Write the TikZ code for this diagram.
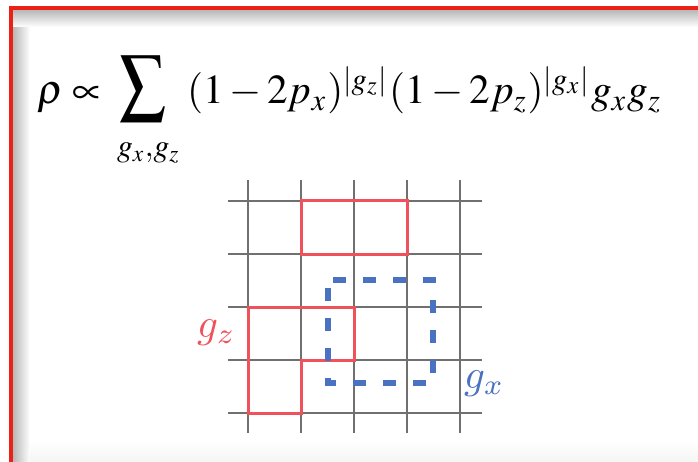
\documentclass[tikz,border=0pt]{standalone}
\usepackage{graphicx}
\usepackage{mathptmx}
\definecolor{framered}{RGB}{236,32,22}
\definecolor{gred}{RGB}{240,82,92}
\definecolor{gblue}{RGB}{74,114,192}
\definecolor{gridc}{RGB}{112,112,112}
\newcommand{\lmmi}{\usefont{OML}{lmm}{m}{it}}
\newcommand{\sublmmi}{\fontsize{7}{7}\usefont{OML}{lmm}{m}{it}}
\tikzset{
  gridline/.style={draw=gridc, line width=1.3pt},
  redloop/.style={draw=gred, line width=3pt, line join=miter},
  blueloop/.style={draw=gblue, line width=5.5pt, dash pattern=on 13pt off 17pt, dash phase=25pt},
  formula/.style={inner sep=0pt, outer sep=0pt},
}
\begin{document}
\begin{tikzpicture}[x=1pt,y=-1pt]
\useasboundingbox (0,0) rectangle (698,462);
\clip (0,0) rectangle (698,462);
\fill[white] (0,0) rectangle (698,462);
% shadow inside the frame
\shade[left color=black!28, right color=white] (13,10) rectangle (30,462);
\shade[top color=black!28, bottom color=white] (13,10) rectangle (698,27);
\shade[top color=white, bottom color=black!4] (30,442) rectangle (698,462);
% frame
\draw[framered, line width=4pt] (11,470) -- (11,8) -- (710,8);

% formula
\node[formula, anchor=base west] (rho) at (37,104) {\resizebox{65pt}{!}{$\rho\propto$}};
\node[formula] (sum) at (143.5,89) {\resizebox*{47pt}{66pt}{$\displaystyle\sum$}};
\node[formula, anchor=base west] (sumsub) at (117,157) {\resizebox{63pt}{!}{$g_x{,}g_z$}};
\node[formula, anchor=base west] (rest) at (187,104) {\resizebox{475pt}{!}{$(1-2p_x)^{|g_z|}(1-2p_z)^{|g_x|}g_xg_z$}};

% grid
\foreach \i in {0,...,4} {
  \draw[gridline] (248+53*\i,180) -- (248+53*\i,433);
  \draw[gridline] (228,201+53*\i) -- (482,201+53*\i);
}
% red loops
\draw[redloop] (301,201) rectangle (407,254);
\draw[redloop] (248,307) -- (354,307) -- (354,360) -- (301,360) -- (301,413) -- (248,413) -- cycle;
% blue dashed loop
\draw[blueloop] (328,280) -- (433,280) -- (433,383) -- (328,383) -- cycle;

% labels
\node[inner sep=0pt, text=gred, anchor=base west] (gz) at (197,337)
  {\scalebox{4.1}{\lmmi g\raisebox{-1.5pt}{\sublmmi z}}};
\node[inner sep=0pt, text=gblue, anchor=base west] (gx) at (464,388)
  {\scalebox{4.1}{\lmmi g\raisebox{-1.5pt}{\sublmmi x}}};
\end{tikzpicture}
\end{document}
